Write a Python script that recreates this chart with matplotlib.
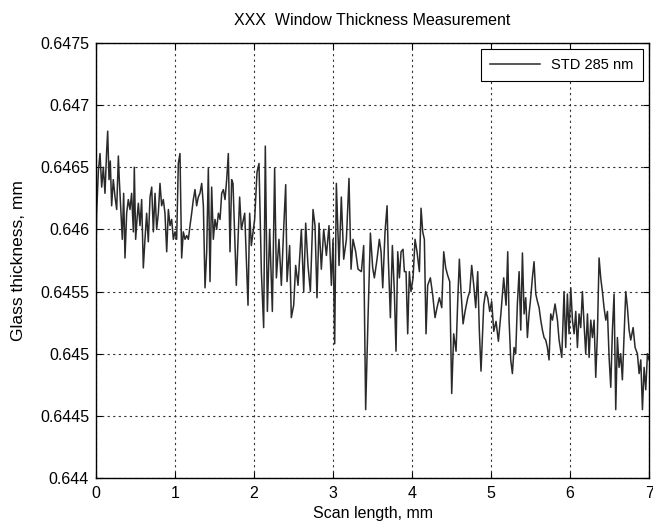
import matplotlib
matplotlib.use('Agg')
import matplotlib.pyplot as plt
import numpy as np

scan_mm = [
    0.000, 0.008, 0.030, 0.051, 0.072, 0.093, 0.114, 0.135, 0.148, 0.165,
    0.181, 0.198, 0.219, 0.241, 0.262, 0.283, 0.295, 0.316, 0.333, 0.350,
    0.367, 0.388, 0.409, 0.430, 0.451, 0.473, 0.485, 0.502, 0.519, 0.536,
    0.557, 0.578, 0.599, 0.620, 0.641, 0.662, 0.684, 0.705, 0.726, 0.747,
    0.768, 0.789, 0.810, 0.831, 0.852, 0.873, 0.895, 0.916, 0.937, 0.958,
    0.979, 1.000, 1.021, 1.042, 1.063, 1.084, 1.105, 1.127, 1.148, 1.169,
    1.190, 1.211, 1.232, 1.253, 1.274, 1.295, 1.316, 1.338, 1.359, 1.380,
    1.401, 1.422, 1.443, 1.464, 1.485, 1.506, 1.527, 1.549, 1.570, 1.591,
    1.612, 1.633, 1.654, 1.675, 1.696, 1.717,
    1.734, 1.776, 1.818, 1.840, 1.882, 1.924, 1.945, 1.966, 2.008, 2.038,
    2.063, 2.093, 2.122, 2.143, 2.169, 2.198, 2.232, 2.261, 2.283, 2.316,
    2.346, 2.375, 2.401, 2.418, 2.451, 2.472, 2.502, 2.527, 2.557, 2.599,
    2.629, 2.654, 2.683, 2.713, 2.747, 2.772, 2.797, 2.823, 2.852, 2.882,
    2.916, 2.949, 2.979, 3.000, 3.021, 3.042, 3.076, 3.105, 3.135, 3.169,
    3.202, 3.228, 3.253, 3.287, 3.316, 3.359, 3.388, 3.413, 3.443, 3.473,
    3.502, 3.523, 3.557, 3.586, 3.608, 3.629, 3.658, 3.684, 3.700, 3.726,
    3.751, 3.776, 3.797, 3.819, 3.840, 3.861, 3.886, 3.903, 3.924, 3.945,
    3.966, 3.987, 4.013, 4.038, 4.063, 4.093, 4.114, 4.135, 4.156, 4.177,
    4.198, 4.232, 4.262, 4.291, 4.316, 4.346, 4.376, 4.401, 4.426, 4.451,
    4.477, 4.502, 4.527, 4.557, 4.578, 4.599, 4.620, 4.646, 4.671, 4.705,
    4.730, 4.755, 4.781, 4.806, 4.831, 4.852, 4.873, 4.907, 4.932, 4.958,
    4.983, 5.008, 5.034, 5.063, 5.093, 5.127, 5.160, 5.190, 5.211,
    5.228, 5.249, 5.270, 5.291, 5.312, 5.333, 5.355, 5.376, 5.397, 5.418,
    5.439, 5.460, 5.481, 5.502, 5.523, 5.544, 5.566, 5.587, 5.608, 5.629,
    5.650, 5.671, 5.692, 5.713, 5.734, 5.755, 5.777, 5.810, 5.840, 5.861,
    5.895, 5.924, 5.945, 5.966, 5.987, 6.009, 6.030, 6.051, 6.072, 6.093,
    6.114, 6.135, 6.156, 6.177, 6.198, 6.220, 6.241, 6.262, 6.283, 6.304,
    6.325, 6.346, 6.367, 6.388, 6.409, 6.430, 6.452, 6.473, 6.494, 6.515,
    6.536, 6.557, 6.578, 6.599, 6.620, 6.641, 6.662, 6.684, 6.705, 6.726,
    6.747, 6.768, 6.798, 6.823, 6.852, 6.874, 6.895, 6.916, 6.937, 6.958,
    6.979, 7.000,
]
thickness_mm = [
    0.64577, 0.64613, 0.64647, 0.64661, 0.64634, 0.64650, 0.64629, 0.64663, 0.64679, 0.64640,
    0.64655, 0.64619, 0.64640, 0.64626, 0.64616, 0.64659, 0.64640, 0.64613, 0.64592, 0.64629,
    0.64577, 0.64613, 0.64624, 0.64616, 0.64629, 0.64598, 0.64650, 0.64592, 0.64608, 0.64621,
    0.64603, 0.64624, 0.64569, 0.64592, 0.64613, 0.64590, 0.64626, 0.64634, 0.64598, 0.64629,
    0.64600, 0.64613, 0.64637, 0.64619, 0.64624, 0.64613, 0.64582, 0.64616, 0.64603, 0.64608,
    0.64592, 0.64598, 0.64592, 0.64653, 0.64661, 0.64577, 0.64598, 0.64592, 0.64595, 0.64592,
    0.64603, 0.64613, 0.64624, 0.64632, 0.64619, 0.64626, 0.64629, 0.64637, 0.64619, 0.64553,
    0.64582, 0.64649, 0.64558, 0.64634, 0.64592, 0.64608, 0.64600, 0.64613, 0.64608, 0.64629,
    0.64632, 0.64624, 0.64640, 0.64661, 0.64582, 0.64640,
    0.64637, 0.64555, 0.64626, 0.64600, 0.64613, 0.64539, 0.64613, 0.64587, 0.64608, 0.64646,
    0.64653, 0.64566, 0.64521, 0.64667, 0.64534, 0.64600, 0.64534, 0.64649, 0.64561, 0.64592,
    0.64555, 0.64600, 0.64636, 0.64558, 0.64587, 0.64529, 0.64539, 0.64571, 0.64555, 0.64600,
    0.64550, 0.64605, 0.64571, 0.64550, 0.64616, 0.64603, 0.64545, 0.64605, 0.64568, 0.64600,
    0.64579, 0.64603, 0.64555, 0.64592, 0.64508, 0.64637, 0.64571, 0.64626, 0.64576, 0.64592,
    0.64641, 0.64568, 0.64592, 0.64582, 0.64568, 0.64566, 0.64587, 0.64455, 0.64529, 0.64597,
    0.64569, 0.64561, 0.64576, 0.64592, 0.64582, 0.64553, 0.64598, 0.64619, 0.64576, 0.64529,
    0.64587, 0.64550, 0.64502, 0.64582, 0.64561, 0.64582, 0.64584, 0.64566, 0.64566, 0.64516,
    0.64566, 0.64550, 0.64561, 0.64592, 0.64582, 0.64566, 0.64617, 0.64598, 0.64592, 0.64516,
    0.64555, 0.64561, 0.64547, 0.64529, 0.64537, 0.64545, 0.64537, 0.64582, 0.64569, 0.64563,
    0.64558, 0.64468, 0.64516, 0.64502, 0.64542, 0.64576, 0.64550, 0.64524, 0.64534, 0.64545,
    0.64550, 0.64571, 0.64555, 0.64537, 0.64566, 0.64518, 0.64486, 0.64539, 0.64550, 0.64545,
    0.64534, 0.64542, 0.64518, 0.64526, 0.64510, 0.64534, 0.64561, 0.64539, 0.64582,
    0.64527, 0.64495, 0.64484, 0.64505, 0.64500, 0.64540, 0.64566, 0.64519, 0.64581, 0.64532,
    0.64545, 0.64513, 0.64532, 0.64545, 0.64561, 0.64574, 0.64548, 0.64542, 0.64537, 0.64527,
    0.64519, 0.64513, 0.64511, 0.64505, 0.64495, 0.64532, 0.64527, 0.64540, 0.64527, 0.64511,
    0.64497, 0.64550, 0.64505, 0.64548, 0.64516, 0.64553, 0.64527, 0.64516, 0.64534, 0.64505,
    0.64532, 0.64521, 0.64550, 0.64524, 0.64500, 0.64532, 0.64497, 0.64527, 0.64513, 0.64527,
    0.64481, 0.64516, 0.64577, 0.64561, 0.64550, 0.64537, 0.64527, 0.64534, 0.64497, 0.64473,
    0.64519, 0.64548, 0.64455, 0.64513, 0.64489, 0.64500, 0.64479, 0.64516, 0.64550, 0.64537,
    0.64519, 0.64511, 0.64521, 0.64505, 0.64500, 0.64484, 0.64495, 0.64455, 0.64489, 0.64471,
    0.64500, 0.64495,
]

y_ticks = [0.644, 0.6445, 0.645, 0.6455, 0.646, 0.6465, 0.647, 0.6475]
y_labels = ['0.644', '0.6445', '0.645', '0.6455', '0.646', '0.6465', '0.647', '0.6475']
x_ticks = [0, 1, 2, 3, 4, 5, 6, 7]

plt.rcParams['font.family'] = ['Liberation Sans', 'DejaVu Sans']

fig = plt.figure(figsize=(6.53, 5.23), dpi=100)
ax = fig.add_axes([0.147, 0.086, 0.847, 0.832])

ax.plot(scan_mm, thickness_mm, color='#2a2a2a', linewidth=1.1, label='STD 285 nm')

ax.set_xlim(0, 7)
ax.set_ylim(0.644, 0.6475)
ax.set_xticks(x_ticks)
ax.set_yticks(y_ticks)
ax.set_yticklabels(y_labels)
ax.tick_params(direction='in', top=True, right=True, labelsize=11.5, length=4)
ax.tick_params(axis='x', pad=6)
ax.tick_params(axis='y', pad=5)

ax.grid(True, color='#333333', linestyle=(0, (2, 3)), linewidth=0.8)
for s in ax.spines.values():
    s.set_linewidth(1.0)

ax.set_title('XXX  Window Thickness Measurement', fontsize=11.5, pad=13)
ax.set_xlabel('Scan length, mm', fontsize=11.5, labelpad=3)
ax.set_ylabel('Glass thickness, mm', fontsize=12.5, labelpad=10)

leg = ax.legend(loc='upper right', fontsize=10.5, fancybox=False, framealpha=1,
                edgecolor='black', handlelength=3.4, borderpad=0.6,
                borderaxespad=0.45)
leg.get_frame().set_linewidth(0.8)

fig.savefig('out.png', dpi=100)
